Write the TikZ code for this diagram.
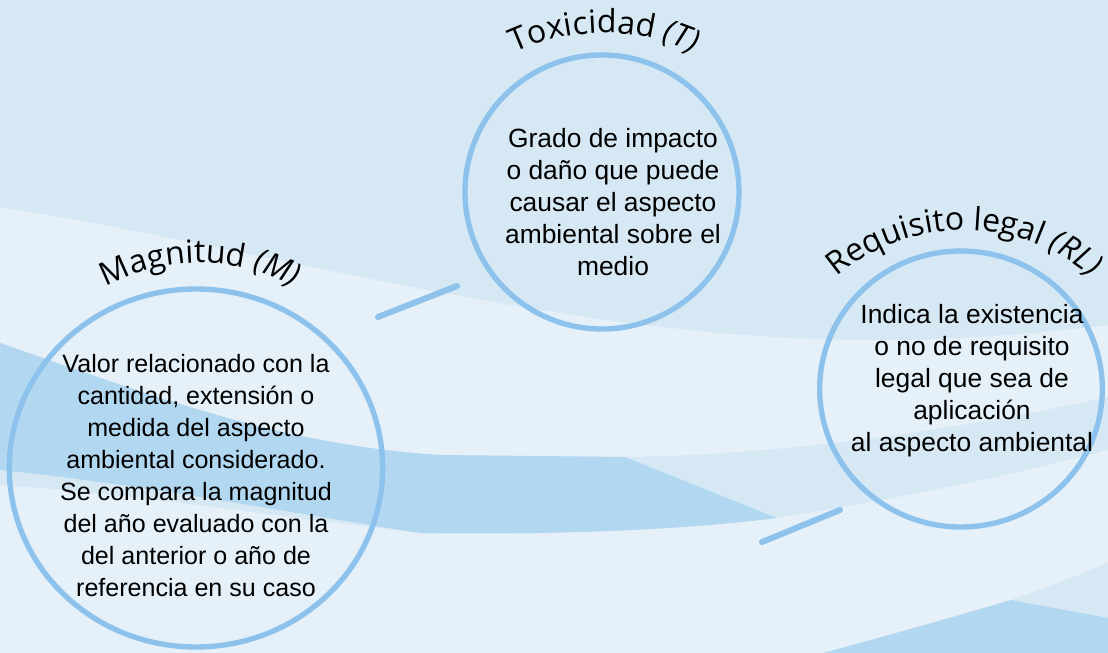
\documentclass[tikz,border=0pt]{standalone}
\usepackage{fontspec}
\setmainfont{Liberation Sans}
\newfontfamily\titlefont{Open Sans}
\usetikzlibrary{shapes.geometric}
\usetikzlibrary{decorations.text}

\definecolor{waveLight}{RGB}{229,240,248}
\definecolor{waveMid}{RGB}{214,232,243}
\definecolor{waveDark}{RGB}{178,215,241}
\definecolor{ringBlue}{RGB}{140,194,236}

\newcommand\headfont{\titlefont\fontsize{24}{28}\selectfont}
\newcommand\headital{\titlefont\itshape\fontsize{24}{28}\selectfont}

\tikzset{
  ring/.style={ellipse, draw=ringBlue, line width=4pt, inner sep=0pt},
  blurb/.style={align=center, inner sep=0.75pt, font=\fontsize{19.8}{24}\selectfont},
  link/.style={draw=ringBlue, line width=4.5pt, line cap=round},
  heading/.style={decorate, decoration={text along path, text align=center, text={#1}}}
}

\begin{document}
\begin{tikzpicture}[x=0.75pt,y=0.75pt,yscale=-1,xscale=1]
\useasboundingbox (0,0) rectangle (1108,653);

%Background waves
\begin{scope}
\clip (0,0) rectangle (1108,653);
\fill[waveLight] (0,0) rectangle (1108,653);
\fill[waveMid] (0,0) -- (0,207) .. controls (250,245) and (550,335) .. (850,340) .. controls (960,341) and (1040,333) .. (1108,325) -- (1108,0) -- cycle;
\fill[waveMid] (0,343) .. controls (150,395) and (280,445) .. (440,455) -- (625,457) .. controls (800,455) and (980,425) .. (1108,397) -- (1108,450) .. controls (1000,478) and (900,498) .. (777,518) .. controls (680,530) and (560,535) .. (421,533) .. controls (300,520) and (150,495) .. (0,485) -- cycle;
\fill[waveDark] (0,343) .. controls (150,395) and (280,445) .. (440,455) -- (625,457) -- (777,518) .. controls (680,530) and (560,535) .. (421,533) .. controls (300,515) and (150,485) .. (0,470) -- cycle;
\fill[waveMid] (823,653) .. controls (890,635) and (950,618) .. (1011,600) .. controls (1045,588) and (1080,575) .. (1108,563) -- (1108,653) -- cycle;
\fill[waveDark] (823,653) .. controls (890,635) and (950,618) .. (1011,600) -- (1108,618) -- (1108,653) -- cycle;
\end{scope}

%Circles
\node[ring, minimum width=205.5pt, minimum height=205.5pt] (tox) at (602,192) {};
\node[ring, minimum width=280pt, minimum height=268.5pt] (mag) at (196,468) {};
\node[ring, minimum width=212pt, minimum height=207pt] (req) at (961,389) {};

%Circle texts
\node[blurb] (toxtext) at (613,202) {Grado de impacto\\o daño que puede\\causar el aspecto\\ambiental sobre el\\medio};
\node[blurb, font=\fontsize{18.8}{24}\selectfont] (magtext) at (196,476) {Valor relacionado con la\\cantidad, extensión o\\medida del aspecto\\ambiental considerado.\\Se compara la magnitud\\del año evaluado con la\\del anterior o año de\\referencia en su caso};
\node[blurb] (reqtext) at (972,381) {Indica la existencia\\o no de requisito\\legal que sea de\\aplicación\\al aspecto ambiental};

%Curved titles
\path[heading={|\headfont|Toxicidad |\headital|(T)}] (604,245) ++(200:212) arc[start angle=200, end angle=340, radius=212];
\path[heading={|\headfont|Magnitud |\headital|(M)}] (200,463) ++(200:200) arc[start angle=200, end angle=340, radius=200];
\path[heading={|\headfont|Requisito legal |\headital|(RL)}] (964,426) ++(200:196) arc[start angle=200, end angle=340, radius=196];

%Short links
\coordinate (seg1a) at (378,317);
\coordinate (seg1b) at (457,286);
\coordinate (seg2a) at (762,542);
\coordinate (seg2b) at (840,510);
\draw[link] (seg1a) -- (seg1b);
\draw[link] (seg2a) -- (seg2b);

\end{tikzpicture}
\end{document}
